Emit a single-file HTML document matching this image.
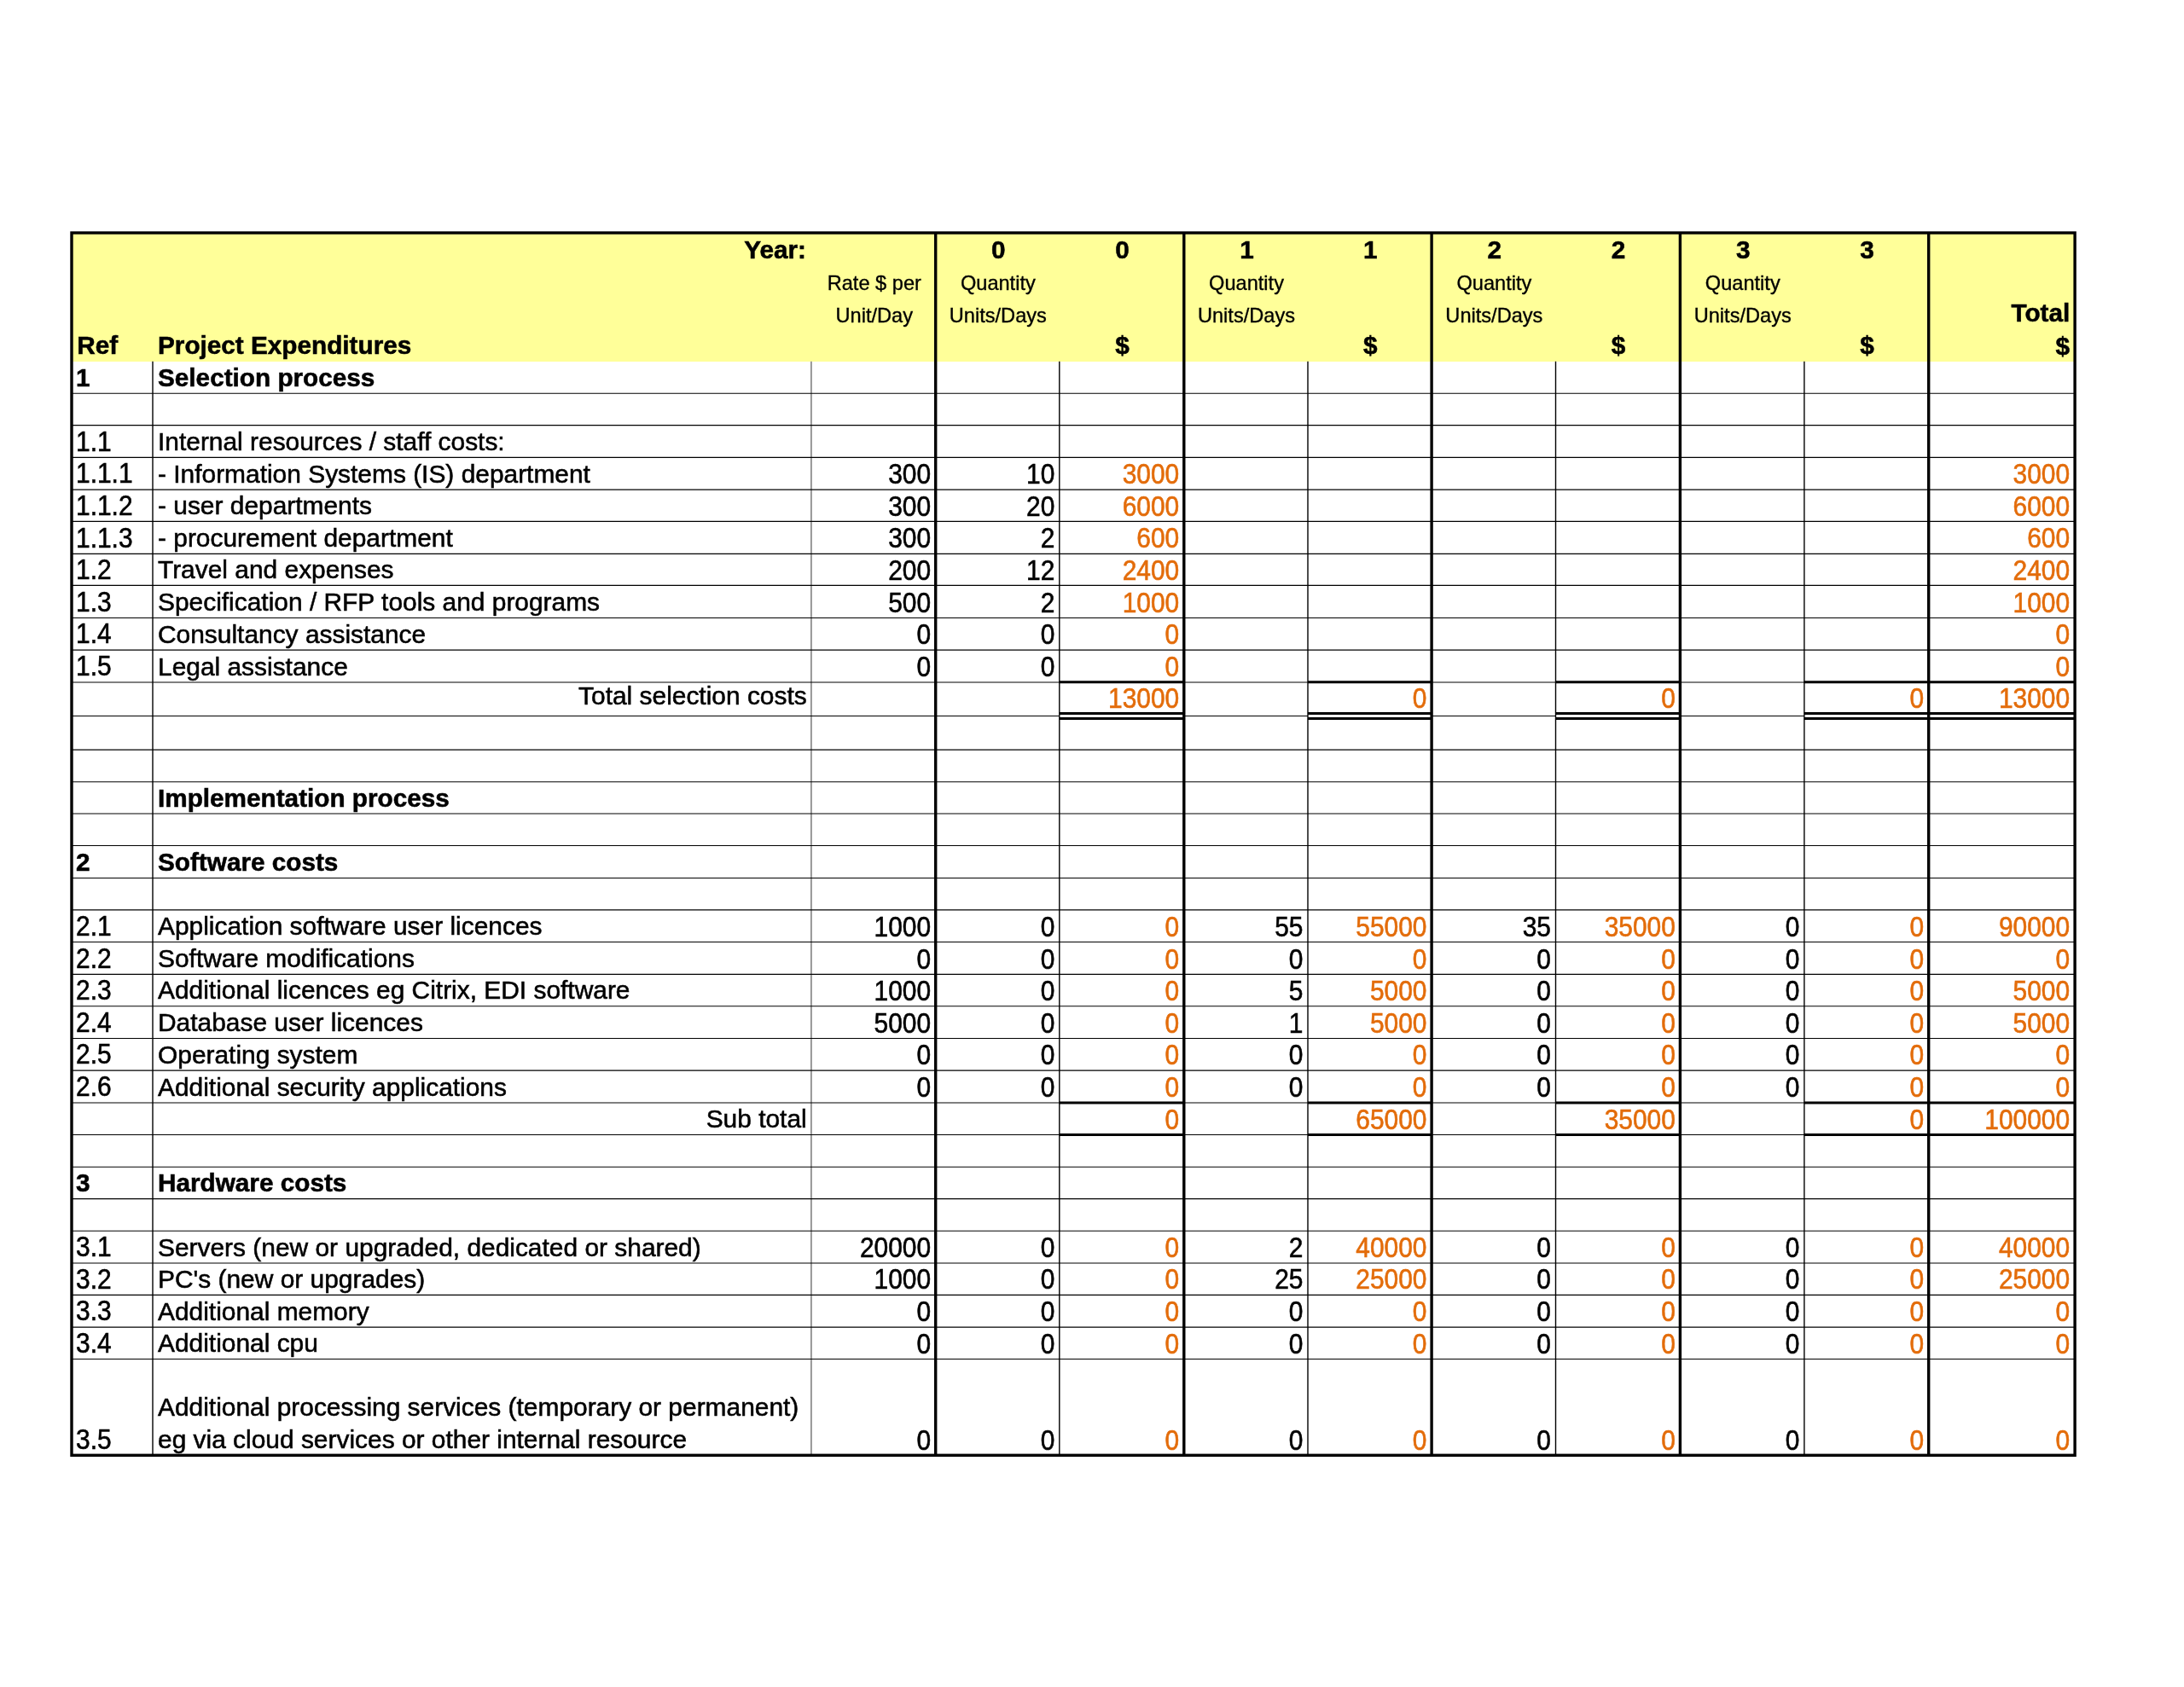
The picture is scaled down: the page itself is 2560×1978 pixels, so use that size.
<!DOCTYPE html>
<html lang="en">
<head>
<meta charset="utf-8">
<title>Project Expenditures</title>
<style>
html,body{margin:0;padding:0;background:#fff;}
body{width:2560px;height:1978px;position:relative;overflow:hidden;
 font-family:"Liberation Sans",Arial,Helvetica,sans-serif;color:#000;}
.t{position:absolute;white-space:nowrap;margin:0;padding:0;-webkit-text-stroke:0.55px currentColor;}
#txt{position:absolute;left:0;top:0;width:2560px;height:1978px;will-change:transform;}
#hdr{position:absolute;left:84.0px;top:273.0px;width:2348.1px;height:150.7px;background:#FFFF99;}
svg{position:absolute;left:0;top:0;}
</style>
</head>
<body>
<div id="hdr"></div>

<svg width="2560" height="1978" viewBox="0 0 2560 1978">
<line x1="950.9" y1="423.7" x2="950.9" y2="1706.3" stroke="#979797" stroke-width="2"/>
<g stroke="#000" stroke-width="1.15">
<line x1="84.0" y1="461.2" x2="2432.1" y2="461.2"/>
<line x1="84.0" y1="498.6" x2="2432.1" y2="498.6"/>
<line x1="84.0" y1="536.4" x2="2432.1" y2="536.4"/>
<line x1="84.0" y1="574.1" x2="2432.1" y2="574.1"/>
<line x1="84.0" y1="611.4" x2="2432.1" y2="611.4"/>
<line x1="84.0" y1="649.3" x2="2432.1" y2="649.3"/>
<line x1="84.0" y1="686.4" x2="2432.1" y2="686.4"/>
<line x1="84.0" y1="724.5" x2="2432.1" y2="724.5"/>
<line x1="84.0" y1="762.1" x2="2432.1" y2="762.1"/>
<line x1="84.0" y1="800.0" x2="2432.1" y2="800.0"/>
<line x1="84.0" y1="839.5" x2="1241.8" y2="839.5"/>
<line x1="1387.8" y1="839.5" x2="1533.0" y2="839.5"/>
<line x1="1678.1" y1="839.5" x2="1823.5" y2="839.5"/>
<line x1="1969.4" y1="839.5" x2="2114.9" y2="839.5"/>
<line x1="84.0" y1="879.1" x2="2432.1" y2="879.1"/>
<line x1="84.0" y1="916.7" x2="2432.1" y2="916.7"/>
<line x1="84.0" y1="954.0" x2="2432.1" y2="954.0"/>
<line x1="84.0" y1="991.5" x2="2432.1" y2="991.5"/>
<line x1="84.0" y1="1029.5" x2="2432.1" y2="1029.5"/>
<line x1="84.0" y1="1066.9" x2="2432.1" y2="1066.9"/>
<line x1="84.0" y1="1104.5" x2="2432.1" y2="1104.5"/>
<line x1="84.0" y1="1142.4" x2="2432.1" y2="1142.4"/>
<line x1="84.0" y1="1179.75" x2="2432.1" y2="1179.75"/>
<line x1="84.0" y1="1217.5" x2="2432.1" y2="1217.5"/>
<line x1="84.0" y1="1255.1" x2="2432.1" y2="1255.1"/>
<line x1="84.0" y1="1293.0" x2="2432.1" y2="1293.0"/>
<line x1="84.0" y1="1330.5" x2="2432.1" y2="1330.5"/>
<line x1="84.0" y1="1368.2" x2="2432.1" y2="1368.2"/>
<line x1="84.0" y1="1405.6" x2="2432.1" y2="1405.6"/>
<line x1="84.0" y1="1443.2" x2="2432.1" y2="1443.2"/>
<line x1="84.0" y1="1481.0" x2="2432.1" y2="1481.0"/>
<line x1="84.0" y1="1518.3" x2="2432.1" y2="1518.3"/>
<line x1="84.0" y1="1556.15" x2="2432.1" y2="1556.15"/>
<line x1="84.0" y1="1593.5" x2="2432.1" y2="1593.5"/>
</g>
<g stroke="#000" stroke-width="1.4">
<line x1="179.0" y1="423.7" x2="179.0" y2="1706.3"/>
<line x1="1241.8" y1="423.7" x2="1241.8" y2="1706.3"/>
<line x1="1533.0" y1="423.7" x2="1533.0" y2="1706.3"/>
<line x1="1823.5" y1="423.7" x2="1823.5" y2="1706.3"/>
<line x1="2114.9" y1="423.7" x2="2114.9" y2="1706.3"/>
</g>
<g stroke="#000" stroke-width="3.4">
<line x1="1096.7" y1="273.0" x2="1096.7" y2="1706.3"/>
<line x1="1387.8" y1="273.0" x2="1387.8" y2="1706.3"/>
<line x1="1678.1" y1="273.0" x2="1678.1" y2="1706.3"/>
<line x1="1969.4" y1="273.0" x2="1969.4" y2="1706.3"/>
<line x1="2260.7" y1="273.0" x2="2260.7" y2="1706.3"/>
</g>
<rect x="84.0" y="273.0" width="2348.1" height="1433.3" fill="none" stroke="#000" stroke-width="3.4"/>
<g stroke="#000" stroke-width="3.0">
<line x1="1241.8" y1="799.8" x2="1387.8" y2="799.8"/>
<line x1="1241.8" y1="836.6" x2="1387.8" y2="836.6"/>
<line x1="1241.8" y1="842.5" x2="1387.8" y2="842.5"/>
<line x1="1241.8" y1="1293.0" x2="1387.8" y2="1293.0"/>
<line x1="1241.8" y1="1330.5" x2="1387.8" y2="1330.5"/>
<line x1="1533.0" y1="799.8" x2="1678.1" y2="799.8"/>
<line x1="1533.0" y1="836.6" x2="1678.1" y2="836.6"/>
<line x1="1533.0" y1="842.5" x2="1678.1" y2="842.5"/>
<line x1="1533.0" y1="1293.0" x2="1678.1" y2="1293.0"/>
<line x1="1533.0" y1="1330.5" x2="1678.1" y2="1330.5"/>
<line x1="1823.5" y1="799.8" x2="1969.4" y2="799.8"/>
<line x1="1823.5" y1="836.6" x2="1969.4" y2="836.6"/>
<line x1="1823.5" y1="842.5" x2="1969.4" y2="842.5"/>
<line x1="1823.5" y1="1293.0" x2="1969.4" y2="1293.0"/>
<line x1="1823.5" y1="1330.5" x2="1969.4" y2="1330.5"/>
<line x1="2114.9" y1="799.8" x2="2260.7" y2="799.8"/>
<line x1="2114.9" y1="836.6" x2="2260.7" y2="836.6"/>
<line x1="2114.9" y1="842.5" x2="2260.7" y2="842.5"/>
<line x1="2114.9" y1="1293.0" x2="2260.7" y2="1293.0"/>
<line x1="2114.9" y1="1330.5" x2="2260.7" y2="1330.5"/>
<line x1="2260.7" y1="799.8" x2="2432.1" y2="799.8"/>
<line x1="2260.7" y1="836.6" x2="2432.1" y2="836.6"/>
<line x1="2260.7" y1="842.5" x2="2432.1" y2="842.5"/>
<line x1="2260.7" y1="1293.0" x2="2432.1" y2="1293.0"/>
<line x1="2260.7" y1="1330.5" x2="2432.1" y2="1330.5"/>
</g>
</svg>
<div id="txt">
<div class="t" style="top:274.77px;line-height:35.66px;font-size:29.72px;right:1615.10px;font-weight:bold">Year:</div>
<div class="t" style="top:387.17px;line-height:35.66px;font-size:29.72px;left:90.30px;font-weight:bold">Ref</div>
<div class="t" style="top:387.17px;line-height:35.66px;font-size:29.72px;left:185.00px;font-weight:bold">Project Expenditures</div>
<div class="t" style="top:318.06px;line-height:28.32px;font-size:23.6px;left:724.80px;width:600px;text-align:center;-webkit-text-stroke-width:0.35px">Rate $ per</div>
<div class="t" style="top:355.86px;line-height:28.32px;font-size:23.6px;left:724.80px;width:600px;text-align:center;-webkit-text-stroke-width:0.35px">Unit/Day</div>
<div class="t" style="top:274.77px;line-height:35.66px;font-size:29.72px;left:870.25px;width:600px;text-align:center;font-weight:bold">0</div>
<div class="t" style="top:274.77px;line-height:35.66px;font-size:29.72px;left:1015.40px;width:600px;text-align:center;font-weight:bold">0</div>
<div class="t" style="top:318.06px;line-height:28.32px;font-size:23.6px;left:869.85px;width:600px;text-align:center;-webkit-text-stroke-width:0.35px">Quantity</div>
<div class="t" style="top:355.86px;line-height:28.32px;font-size:23.6px;left:869.85px;width:600px;text-align:center;-webkit-text-stroke-width:0.35px">Units/Days</div>
<div class="t" style="top:387.17px;line-height:35.66px;font-size:29.72px;left:1015.40px;width:600px;text-align:center;font-weight:bold">$</div>
<div class="t" style="top:274.77px;line-height:35.66px;font-size:29.72px;left:1161.40px;width:600px;text-align:center;font-weight:bold">1</div>
<div class="t" style="top:274.77px;line-height:35.66px;font-size:29.72px;left:1306.15px;width:600px;text-align:center;font-weight:bold">1</div>
<div class="t" style="top:318.06px;line-height:28.32px;font-size:23.6px;left:1161.00px;width:600px;text-align:center;-webkit-text-stroke-width:0.35px">Quantity</div>
<div class="t" style="top:355.86px;line-height:28.32px;font-size:23.6px;left:1161.00px;width:600px;text-align:center;-webkit-text-stroke-width:0.35px">Units/Days</div>
<div class="t" style="top:387.17px;line-height:35.66px;font-size:29.72px;left:1306.15px;width:600px;text-align:center;font-weight:bold">$</div>
<div class="t" style="top:274.77px;line-height:35.66px;font-size:29.72px;left:1451.80px;width:600px;text-align:center;font-weight:bold">2</div>
<div class="t" style="top:274.77px;line-height:35.66px;font-size:29.72px;left:1597.05px;width:600px;text-align:center;font-weight:bold">2</div>
<div class="t" style="top:318.06px;line-height:28.32px;font-size:23.6px;left:1451.40px;width:600px;text-align:center;-webkit-text-stroke-width:0.35px">Quantity</div>
<div class="t" style="top:355.86px;line-height:28.32px;font-size:23.6px;left:1451.40px;width:600px;text-align:center;-webkit-text-stroke-width:0.35px">Units/Days</div>
<div class="t" style="top:387.17px;line-height:35.66px;font-size:29.72px;left:1597.05px;width:600px;text-align:center;font-weight:bold">$</div>
<div class="t" style="top:274.77px;line-height:35.66px;font-size:29.72px;left:1743.15px;width:600px;text-align:center;font-weight:bold">3</div>
<div class="t" style="top:274.77px;line-height:35.66px;font-size:29.72px;left:1888.40px;width:600px;text-align:center;font-weight:bold">3</div>
<div class="t" style="top:318.06px;line-height:28.32px;font-size:23.6px;left:1742.75px;width:600px;text-align:center;-webkit-text-stroke-width:0.35px">Quantity</div>
<div class="t" style="top:355.86px;line-height:28.32px;font-size:23.6px;left:1742.75px;width:600px;text-align:center;-webkit-text-stroke-width:0.35px">Units/Days</div>
<div class="t" style="top:387.17px;line-height:35.66px;font-size:29.72px;left:1888.40px;width:600px;text-align:center;font-weight:bold">$</div>
<div class="t" style="top:349.27px;line-height:35.66px;font-size:29.72px;right:133.70px;font-weight:bold">Total</div>
<div class="t" style="top:387.77px;line-height:35.66px;font-size:29.72px;right:134.10px;font-weight:bold">$</div>
<div class="t" style="top:424.77px;line-height:35.66px;font-size:29.72px;left:89.00px;font-weight:bold">1</div>
<div class="t" style="top:425.07px;line-height:35.66px;font-size:29.72px;left:185.00px;font-weight:bold">Selection process</div>
<div class="t" style="top:500.68px;line-height:35.9px;font-size:29.92px;left:89.00px;transform:scaleY(1.08);transform-origin:50% 28.32px">1.1</div>
<div class="t" style="top:500.08px;line-height:35.9px;font-size:29.92px;left:185.00px">Internal resources / staff costs:</div>
<div class="t" style="top:538.38px;line-height:35.9px;font-size:29.92px;left:89.00px;transform:scaleY(1.08);transform-origin:50% 28.32px">1.1.1</div>
<div class="t" style="top:537.78px;line-height:35.9px;font-size:29.92px;left:185.00px">- Information Systems (IS) department</div>
<div class="t" style="top:539.28px;line-height:35.9px;font-size:29.92px;right:1468.90px;transform:scaleY(1.08);transform-origin:50% 28.32px">300</div>
<div class="t" style="top:539.28px;line-height:35.9px;font-size:29.92px;right:1323.70px;transform:scaleY(1.08);transform-origin:50% 28.32px">10</div>
<div class="t" style="top:539.28px;line-height:35.9px;font-size:29.92px;right:1177.80px;color:#E36C0A;transform:scaleY(1.08);transform-origin:50% 28.32px">3000</div>
<div class="t" style="top:539.28px;line-height:35.9px;font-size:29.92px;right:133.90px;color:#E36C0A;transform:scaleY(1.08);transform-origin:50% 28.32px">3000</div>
<div class="t" style="top:575.68px;line-height:35.9px;font-size:29.92px;left:89.00px;transform:scaleY(1.08);transform-origin:50% 28.32px">1.1.2</div>
<div class="t" style="top:575.08px;line-height:35.9px;font-size:29.92px;left:185.00px">- user departments</div>
<div class="t" style="top:576.58px;line-height:35.9px;font-size:29.92px;right:1468.90px;transform:scaleY(1.08);transform-origin:50% 28.32px">300</div>
<div class="t" style="top:576.58px;line-height:35.9px;font-size:29.92px;right:1323.70px;transform:scaleY(1.08);transform-origin:50% 28.32px">20</div>
<div class="t" style="top:576.58px;line-height:35.9px;font-size:29.92px;right:1177.80px;color:#E36C0A;transform:scaleY(1.08);transform-origin:50% 28.32px">6000</div>
<div class="t" style="top:576.58px;line-height:35.9px;font-size:29.92px;right:133.90px;color:#E36C0A;transform:scaleY(1.08);transform-origin:50% 28.32px">6000</div>
<div class="t" style="top:613.58px;line-height:35.9px;font-size:29.92px;left:89.00px;transform:scaleY(1.08);transform-origin:50% 28.32px">1.1.3</div>
<div class="t" style="top:612.98px;line-height:35.9px;font-size:29.92px;left:185.00px">- procurement department</div>
<div class="t" style="top:614.48px;line-height:35.9px;font-size:29.92px;right:1468.90px;transform:scaleY(1.08);transform-origin:50% 28.32px">300</div>
<div class="t" style="top:614.48px;line-height:35.9px;font-size:29.92px;right:1323.70px;transform:scaleY(1.08);transform-origin:50% 28.32px">2</div>
<div class="t" style="top:614.48px;line-height:35.9px;font-size:29.92px;right:1177.80px;color:#E36C0A;transform:scaleY(1.08);transform-origin:50% 28.32px">600</div>
<div class="t" style="top:614.48px;line-height:35.9px;font-size:29.92px;right:133.90px;color:#E36C0A;transform:scaleY(1.08);transform-origin:50% 28.32px">600</div>
<div class="t" style="top:650.68px;line-height:35.9px;font-size:29.92px;left:89.00px;transform:scaleY(1.08);transform-origin:50% 28.32px">1.2</div>
<div class="t" style="top:650.08px;line-height:35.9px;font-size:29.92px;left:185.00px">Travel and expenses</div>
<div class="t" style="top:651.58px;line-height:35.9px;font-size:29.92px;right:1468.90px;transform:scaleY(1.08);transform-origin:50% 28.32px">200</div>
<div class="t" style="top:651.58px;line-height:35.9px;font-size:29.92px;right:1323.70px;transform:scaleY(1.08);transform-origin:50% 28.32px">12</div>
<div class="t" style="top:651.58px;line-height:35.9px;font-size:29.92px;right:1177.80px;color:#E36C0A;transform:scaleY(1.08);transform-origin:50% 28.32px">2400</div>
<div class="t" style="top:651.58px;line-height:35.9px;font-size:29.92px;right:133.90px;color:#E36C0A;transform:scaleY(1.08);transform-origin:50% 28.32px">2400</div>
<div class="t" style="top:688.78px;line-height:35.9px;font-size:29.92px;left:89.00px;transform:scaleY(1.08);transform-origin:50% 28.32px">1.3</div>
<div class="t" style="top:688.18px;line-height:35.9px;font-size:29.92px;left:185.00px">Specification / RFP tools and programs</div>
<div class="t" style="top:689.68px;line-height:35.9px;font-size:29.92px;right:1468.90px;transform:scaleY(1.08);transform-origin:50% 28.32px">500</div>
<div class="t" style="top:689.68px;line-height:35.9px;font-size:29.92px;right:1323.70px;transform:scaleY(1.08);transform-origin:50% 28.32px">2</div>
<div class="t" style="top:689.68px;line-height:35.9px;font-size:29.92px;right:1177.80px;color:#E36C0A;transform:scaleY(1.08);transform-origin:50% 28.32px">1000</div>
<div class="t" style="top:689.68px;line-height:35.9px;font-size:29.92px;right:133.90px;color:#E36C0A;transform:scaleY(1.08);transform-origin:50% 28.32px">1000</div>
<div class="t" style="top:726.38px;line-height:35.9px;font-size:29.92px;left:89.00px;transform:scaleY(1.08);transform-origin:50% 28.32px">1.4</div>
<div class="t" style="top:725.78px;line-height:35.9px;font-size:29.92px;left:185.00px">Consultancy assistance</div>
<div class="t" style="top:727.28px;line-height:35.9px;font-size:29.92px;right:1468.90px;transform:scaleY(1.08);transform-origin:50% 28.32px">0</div>
<div class="t" style="top:727.28px;line-height:35.9px;font-size:29.92px;right:1323.70px;transform:scaleY(1.08);transform-origin:50% 28.32px">0</div>
<div class="t" style="top:727.28px;line-height:35.9px;font-size:29.92px;right:1177.80px;color:#E36C0A;transform:scaleY(1.08);transform-origin:50% 28.32px">0</div>
<div class="t" style="top:727.28px;line-height:35.9px;font-size:29.92px;right:133.90px;color:#E36C0A;transform:scaleY(1.08);transform-origin:50% 28.32px">0</div>
<div class="t" style="top:764.28px;line-height:35.9px;font-size:29.92px;left:89.00px;transform:scaleY(1.08);transform-origin:50% 28.32px">1.5</div>
<div class="t" style="top:763.68px;line-height:35.9px;font-size:29.92px;left:185.00px">Legal assistance</div>
<div class="t" style="top:765.18px;line-height:35.9px;font-size:29.92px;right:1468.90px;transform:scaleY(1.08);transform-origin:50% 28.32px">0</div>
<div class="t" style="top:765.18px;line-height:35.9px;font-size:29.92px;right:1323.70px;transform:scaleY(1.08);transform-origin:50% 28.32px">0</div>
<div class="t" style="top:765.18px;line-height:35.9px;font-size:29.92px;right:1177.80px;color:#E36C0A;transform:scaleY(1.08);transform-origin:50% 28.32px">0</div>
<div class="t" style="top:765.18px;line-height:35.9px;font-size:29.92px;right:133.90px;color:#E36C0A;transform:scaleY(1.08);transform-origin:50% 28.32px">0</div>
<div class="t" style="top:797.78px;line-height:35.9px;font-size:29.92px;right:1614.30px">Total selection costs</div>
<div class="t" style="top:801.78px;line-height:35.9px;font-size:29.92px;right:1177.80px;color:#E36C0A;transform:scaleY(1.08);transform-origin:50% 28.32px">13000</div>
<div class="t" style="top:801.78px;line-height:35.9px;font-size:29.92px;right:887.50px;color:#E36C0A;transform:scaleY(1.08);transform-origin:50% 28.32px">0</div>
<div class="t" style="top:801.78px;line-height:35.9px;font-size:29.92px;right:596.20px;color:#E36C0A;transform:scaleY(1.08);transform-origin:50% 28.32px">0</div>
<div class="t" style="top:801.78px;line-height:35.9px;font-size:29.92px;right:304.90px;color:#E36C0A;transform:scaleY(1.08);transform-origin:50% 28.32px">0</div>
<div class="t" style="top:801.78px;line-height:35.9px;font-size:29.92px;right:133.90px;color:#E36C0A;transform:scaleY(1.08);transform-origin:50% 28.32px">13000</div>
<div class="t" style="top:917.87px;line-height:35.66px;font-size:29.72px;left:185.00px;font-weight:bold">Implementation process</div>
<div class="t" style="top:993.07px;line-height:35.66px;font-size:29.72px;left:89.00px;font-weight:bold">2</div>
<div class="t" style="top:993.37px;line-height:35.66px;font-size:29.72px;left:185.00px;font-weight:bold">Software costs</div>
<div class="t" style="top:1068.78px;line-height:35.9px;font-size:29.92px;left:89.00px;transform:scaleY(1.08);transform-origin:50% 28.32px">2.1</div>
<div class="t" style="top:1068.18px;line-height:35.9px;font-size:29.92px;left:185.00px">Application software user licences</div>
<div class="t" style="top:1069.68px;line-height:35.9px;font-size:29.92px;right:1468.90px;transform:scaleY(1.08);transform-origin:50% 28.32px">1000</div>
<div class="t" style="top:1069.68px;line-height:35.9px;font-size:29.92px;right:1323.70px;transform:scaleY(1.08);transform-origin:50% 28.32px">0</div>
<div class="t" style="top:1069.68px;line-height:35.9px;font-size:29.92px;right:1177.80px;color:#E36C0A;transform:scaleY(1.08);transform-origin:50% 28.32px">0</div>
<div class="t" style="top:1069.68px;line-height:35.9px;font-size:29.92px;right:1032.50px;transform:scaleY(1.08);transform-origin:50% 28.32px">55</div>
<div class="t" style="top:1069.68px;line-height:35.9px;font-size:29.92px;right:887.50px;color:#E36C0A;transform:scaleY(1.08);transform-origin:50% 28.32px">55000</div>
<div class="t" style="top:1069.68px;line-height:35.9px;font-size:29.92px;right:742.00px;transform:scaleY(1.08);transform-origin:50% 28.32px">35</div>
<div class="t" style="top:1069.68px;line-height:35.9px;font-size:29.92px;right:596.20px;color:#E36C0A;transform:scaleY(1.08);transform-origin:50% 28.32px">35000</div>
<div class="t" style="top:1069.68px;line-height:35.9px;font-size:29.92px;right:450.60px;transform:scaleY(1.08);transform-origin:50% 28.32px">0</div>
<div class="t" style="top:1069.68px;line-height:35.9px;font-size:29.92px;right:304.90px;color:#E36C0A;transform:scaleY(1.08);transform-origin:50% 28.32px">0</div>
<div class="t" style="top:1069.68px;line-height:35.9px;font-size:29.92px;right:133.90px;color:#E36C0A;transform:scaleY(1.08);transform-origin:50% 28.32px">90000</div>
<div class="t" style="top:1106.68px;line-height:35.9px;font-size:29.92px;left:89.00px;transform:scaleY(1.08);transform-origin:50% 28.32px">2.2</div>
<div class="t" style="top:1106.08px;line-height:35.9px;font-size:29.92px;left:185.00px">Software modifications</div>
<div class="t" style="top:1107.58px;line-height:35.9px;font-size:29.92px;right:1468.90px;transform:scaleY(1.08);transform-origin:50% 28.32px">0</div>
<div class="t" style="top:1107.58px;line-height:35.9px;font-size:29.92px;right:1323.70px;transform:scaleY(1.08);transform-origin:50% 28.32px">0</div>
<div class="t" style="top:1107.58px;line-height:35.9px;font-size:29.92px;right:1177.80px;color:#E36C0A;transform:scaleY(1.08);transform-origin:50% 28.32px">0</div>
<div class="t" style="top:1107.58px;line-height:35.9px;font-size:29.92px;right:1032.50px;transform:scaleY(1.08);transform-origin:50% 28.32px">0</div>
<div class="t" style="top:1107.58px;line-height:35.9px;font-size:29.92px;right:887.50px;color:#E36C0A;transform:scaleY(1.08);transform-origin:50% 28.32px">0</div>
<div class="t" style="top:1107.58px;line-height:35.9px;font-size:29.92px;right:742.00px;transform:scaleY(1.08);transform-origin:50% 28.32px">0</div>
<div class="t" style="top:1107.58px;line-height:35.9px;font-size:29.92px;right:596.20px;color:#E36C0A;transform:scaleY(1.08);transform-origin:50% 28.32px">0</div>
<div class="t" style="top:1107.58px;line-height:35.9px;font-size:29.92px;right:450.60px;transform:scaleY(1.08);transform-origin:50% 28.32px">0</div>
<div class="t" style="top:1107.58px;line-height:35.9px;font-size:29.92px;right:304.90px;color:#E36C0A;transform:scaleY(1.08);transform-origin:50% 28.32px">0</div>
<div class="t" style="top:1107.58px;line-height:35.9px;font-size:29.92px;right:133.90px;color:#E36C0A;transform:scaleY(1.08);transform-origin:50% 28.32px">0</div>
<div class="t" style="top:1144.03px;line-height:35.9px;font-size:29.92px;left:89.00px;transform:scaleY(1.08);transform-origin:50% 28.32px">2.3</div>
<div class="t" style="top:1143.43px;line-height:35.9px;font-size:29.92px;left:185.00px">Additional licences eg Citrix, EDI software</div>
<div class="t" style="top:1144.93px;line-height:35.9px;font-size:29.92px;right:1468.90px;transform:scaleY(1.08);transform-origin:50% 28.32px">1000</div>
<div class="t" style="top:1144.93px;line-height:35.9px;font-size:29.92px;right:1323.70px;transform:scaleY(1.08);transform-origin:50% 28.32px">0</div>
<div class="t" style="top:1144.93px;line-height:35.9px;font-size:29.92px;right:1177.80px;color:#E36C0A;transform:scaleY(1.08);transform-origin:50% 28.32px">0</div>
<div class="t" style="top:1144.93px;line-height:35.9px;font-size:29.92px;right:1032.50px;transform:scaleY(1.08);transform-origin:50% 28.32px">5</div>
<div class="t" style="top:1144.93px;line-height:35.9px;font-size:29.92px;right:887.50px;color:#E36C0A;transform:scaleY(1.08);transform-origin:50% 28.32px">5000</div>
<div class="t" style="top:1144.93px;line-height:35.9px;font-size:29.92px;right:742.00px;transform:scaleY(1.08);transform-origin:50% 28.32px">0</div>
<div class="t" style="top:1144.93px;line-height:35.9px;font-size:29.92px;right:596.20px;color:#E36C0A;transform:scaleY(1.08);transform-origin:50% 28.32px">0</div>
<div class="t" style="top:1144.93px;line-height:35.9px;font-size:29.92px;right:450.60px;transform:scaleY(1.08);transform-origin:50% 28.32px">0</div>
<div class="t" style="top:1144.93px;line-height:35.9px;font-size:29.92px;right:304.90px;color:#E36C0A;transform:scaleY(1.08);transform-origin:50% 28.32px">0</div>
<div class="t" style="top:1144.93px;line-height:35.9px;font-size:29.92px;right:133.90px;color:#E36C0A;transform:scaleY(1.08);transform-origin:50% 28.32px">5000</div>
<div class="t" style="top:1181.78px;line-height:35.9px;font-size:29.92px;left:89.00px;transform:scaleY(1.08);transform-origin:50% 28.32px">2.4</div>
<div class="t" style="top:1181.18px;line-height:35.9px;font-size:29.92px;left:185.00px">Database user licences</div>
<div class="t" style="top:1182.68px;line-height:35.9px;font-size:29.92px;right:1468.90px;transform:scaleY(1.08);transform-origin:50% 28.32px">5000</div>
<div class="t" style="top:1182.68px;line-height:35.9px;font-size:29.92px;right:1323.70px;transform:scaleY(1.08);transform-origin:50% 28.32px">0</div>
<div class="t" style="top:1182.68px;line-height:35.9px;font-size:29.92px;right:1177.80px;color:#E36C0A;transform:scaleY(1.08);transform-origin:50% 28.32px">0</div>
<div class="t" style="top:1182.68px;line-height:35.9px;font-size:29.92px;right:1032.50px;transform:scaleY(1.08);transform-origin:50% 28.32px">1</div>
<div class="t" style="top:1182.68px;line-height:35.9px;font-size:29.92px;right:887.50px;color:#E36C0A;transform:scaleY(1.08);transform-origin:50% 28.32px">5000</div>
<div class="t" style="top:1182.68px;line-height:35.9px;font-size:29.92px;right:742.00px;transform:scaleY(1.08);transform-origin:50% 28.32px">0</div>
<div class="t" style="top:1182.68px;line-height:35.9px;font-size:29.92px;right:596.20px;color:#E36C0A;transform:scaleY(1.08);transform-origin:50% 28.32px">0</div>
<div class="t" style="top:1182.68px;line-height:35.9px;font-size:29.92px;right:450.60px;transform:scaleY(1.08);transform-origin:50% 28.32px">0</div>
<div class="t" style="top:1182.68px;line-height:35.9px;font-size:29.92px;right:304.90px;color:#E36C0A;transform:scaleY(1.08);transform-origin:50% 28.32px">0</div>
<div class="t" style="top:1182.68px;line-height:35.9px;font-size:29.92px;right:133.90px;color:#E36C0A;transform:scaleY(1.08);transform-origin:50% 28.32px">5000</div>
<div class="t" style="top:1219.38px;line-height:35.9px;font-size:29.92px;left:89.00px;transform:scaleY(1.08);transform-origin:50% 28.32px">2.5</div>
<div class="t" style="top:1218.78px;line-height:35.9px;font-size:29.92px;left:185.00px">Operating system</div>
<div class="t" style="top:1220.28px;line-height:35.9px;font-size:29.92px;right:1468.90px;transform:scaleY(1.08);transform-origin:50% 28.32px">0</div>
<div class="t" style="top:1220.28px;line-height:35.9px;font-size:29.92px;right:1323.70px;transform:scaleY(1.08);transform-origin:50% 28.32px">0</div>
<div class="t" style="top:1220.28px;line-height:35.9px;font-size:29.92px;right:1177.80px;color:#E36C0A;transform:scaleY(1.08);transform-origin:50% 28.32px">0</div>
<div class="t" style="top:1220.28px;line-height:35.9px;font-size:29.92px;right:1032.50px;transform:scaleY(1.08);transform-origin:50% 28.32px">0</div>
<div class="t" style="top:1220.28px;line-height:35.9px;font-size:29.92px;right:887.50px;color:#E36C0A;transform:scaleY(1.08);transform-origin:50% 28.32px">0</div>
<div class="t" style="top:1220.28px;line-height:35.9px;font-size:29.92px;right:742.00px;transform:scaleY(1.08);transform-origin:50% 28.32px">0</div>
<div class="t" style="top:1220.28px;line-height:35.9px;font-size:29.92px;right:596.20px;color:#E36C0A;transform:scaleY(1.08);transform-origin:50% 28.32px">0</div>
<div class="t" style="top:1220.28px;line-height:35.9px;font-size:29.92px;right:450.60px;transform:scaleY(1.08);transform-origin:50% 28.32px">0</div>
<div class="t" style="top:1220.28px;line-height:35.9px;font-size:29.92px;right:304.90px;color:#E36C0A;transform:scaleY(1.08);transform-origin:50% 28.32px">0</div>
<div class="t" style="top:1220.28px;line-height:35.9px;font-size:29.92px;right:133.90px;color:#E36C0A;transform:scaleY(1.08);transform-origin:50% 28.32px">0</div>
<div class="t" style="top:1257.28px;line-height:35.9px;font-size:29.92px;left:89.00px;transform:scaleY(1.08);transform-origin:50% 28.32px">2.6</div>
<div class="t" style="top:1256.68px;line-height:35.9px;font-size:29.92px;left:185.00px">Additional security applications</div>
<div class="t" style="top:1258.18px;line-height:35.9px;font-size:29.92px;right:1468.90px;transform:scaleY(1.08);transform-origin:50% 28.32px">0</div>
<div class="t" style="top:1258.18px;line-height:35.9px;font-size:29.92px;right:1323.70px;transform:scaleY(1.08);transform-origin:50% 28.32px">0</div>
<div class="t" style="top:1258.18px;line-height:35.9px;font-size:29.92px;right:1177.80px;color:#E36C0A;transform:scaleY(1.08);transform-origin:50% 28.32px">0</div>
<div class="t" style="top:1258.18px;line-height:35.9px;font-size:29.92px;right:1032.50px;transform:scaleY(1.08);transform-origin:50% 28.32px">0</div>
<div class="t" style="top:1258.18px;line-height:35.9px;font-size:29.92px;right:887.50px;color:#E36C0A;transform:scaleY(1.08);transform-origin:50% 28.32px">0</div>
<div class="t" style="top:1258.18px;line-height:35.9px;font-size:29.92px;right:742.00px;transform:scaleY(1.08);transform-origin:50% 28.32px">0</div>
<div class="t" style="top:1258.18px;line-height:35.9px;font-size:29.92px;right:596.20px;color:#E36C0A;transform:scaleY(1.08);transform-origin:50% 28.32px">0</div>
<div class="t" style="top:1258.18px;line-height:35.9px;font-size:29.92px;right:450.60px;transform:scaleY(1.08);transform-origin:50% 28.32px">0</div>
<div class="t" style="top:1258.18px;line-height:35.9px;font-size:29.92px;right:304.90px;color:#E36C0A;transform:scaleY(1.08);transform-origin:50% 28.32px">0</div>
<div class="t" style="top:1258.18px;line-height:35.9px;font-size:29.92px;right:133.90px;color:#E36C0A;transform:scaleY(1.08);transform-origin:50% 28.32px">0</div>
<div class="t" style="top:1294.18px;line-height:35.9px;font-size:29.92px;right:1614.30px">Sub total</div>
<div class="t" style="top:1295.68px;line-height:35.9px;font-size:29.92px;right:1177.80px;color:#E36C0A;transform:scaleY(1.08);transform-origin:50% 28.32px">0</div>
<div class="t" style="top:1295.68px;line-height:35.9px;font-size:29.92px;right:887.50px;color:#E36C0A;transform:scaleY(1.08);transform-origin:50% 28.32px">65000</div>
<div class="t" style="top:1295.68px;line-height:35.9px;font-size:29.92px;right:596.20px;color:#E36C0A;transform:scaleY(1.08);transform-origin:50% 28.32px">35000</div>
<div class="t" style="top:1295.68px;line-height:35.9px;font-size:29.92px;right:304.90px;color:#E36C0A;transform:scaleY(1.08);transform-origin:50% 28.32px">0</div>
<div class="t" style="top:1295.68px;line-height:35.9px;font-size:29.92px;right:133.90px;color:#E36C0A;transform:scaleY(1.08);transform-origin:50% 28.32px">100000</div>
<div class="t" style="top:1369.17px;line-height:35.66px;font-size:29.72px;left:89.00px;font-weight:bold">3</div>
<div class="t" style="top:1369.47px;line-height:35.66px;font-size:29.72px;left:185.00px;font-weight:bold">Hardware costs</div>
<div class="t" style="top:1445.28px;line-height:35.9px;font-size:29.92px;left:89.00px;transform:scaleY(1.08);transform-origin:50% 28.32px">3.1</div>
<div class="t" style="top:1444.68px;line-height:35.9px;font-size:29.92px;left:185.00px">Servers (new or upgraded, dedicated or shared)</div>
<div class="t" style="top:1446.18px;line-height:35.9px;font-size:29.92px;right:1468.90px;transform:scaleY(1.08);transform-origin:50% 28.32px">20000</div>
<div class="t" style="top:1446.18px;line-height:35.9px;font-size:29.92px;right:1323.70px;transform:scaleY(1.08);transform-origin:50% 28.32px">0</div>
<div class="t" style="top:1446.18px;line-height:35.9px;font-size:29.92px;right:1177.80px;color:#E36C0A;transform:scaleY(1.08);transform-origin:50% 28.32px">0</div>
<div class="t" style="top:1446.18px;line-height:35.9px;font-size:29.92px;right:1032.50px;transform:scaleY(1.08);transform-origin:50% 28.32px">2</div>
<div class="t" style="top:1446.18px;line-height:35.9px;font-size:29.92px;right:887.50px;color:#E36C0A;transform:scaleY(1.08);transform-origin:50% 28.32px">40000</div>
<div class="t" style="top:1446.18px;line-height:35.9px;font-size:29.92px;right:742.00px;transform:scaleY(1.08);transform-origin:50% 28.32px">0</div>
<div class="t" style="top:1446.18px;line-height:35.9px;font-size:29.92px;right:596.20px;color:#E36C0A;transform:scaleY(1.08);transform-origin:50% 28.32px">0</div>
<div class="t" style="top:1446.18px;line-height:35.9px;font-size:29.92px;right:450.60px;transform:scaleY(1.08);transform-origin:50% 28.32px">0</div>
<div class="t" style="top:1446.18px;line-height:35.9px;font-size:29.92px;right:304.90px;color:#E36C0A;transform:scaleY(1.08);transform-origin:50% 28.32px">0</div>
<div class="t" style="top:1446.18px;line-height:35.9px;font-size:29.92px;right:133.90px;color:#E36C0A;transform:scaleY(1.08);transform-origin:50% 28.32px">40000</div>
<div class="t" style="top:1482.58px;line-height:35.9px;font-size:29.92px;left:89.00px;transform:scaleY(1.08);transform-origin:50% 28.32px">3.2</div>
<div class="t" style="top:1481.98px;line-height:35.9px;font-size:29.92px;left:185.00px">PC&#x27;s (new or upgrades)</div>
<div class="t" style="top:1483.48px;line-height:35.9px;font-size:29.92px;right:1468.90px;transform:scaleY(1.08);transform-origin:50% 28.32px">1000</div>
<div class="t" style="top:1483.48px;line-height:35.9px;font-size:29.92px;right:1323.70px;transform:scaleY(1.08);transform-origin:50% 28.32px">0</div>
<div class="t" style="top:1483.48px;line-height:35.9px;font-size:29.92px;right:1177.80px;color:#E36C0A;transform:scaleY(1.08);transform-origin:50% 28.32px">0</div>
<div class="t" style="top:1483.48px;line-height:35.9px;font-size:29.92px;right:1032.50px;transform:scaleY(1.08);transform-origin:50% 28.32px">25</div>
<div class="t" style="top:1483.48px;line-height:35.9px;font-size:29.92px;right:887.50px;color:#E36C0A;transform:scaleY(1.08);transform-origin:50% 28.32px">25000</div>
<div class="t" style="top:1483.48px;line-height:35.9px;font-size:29.92px;right:742.00px;transform:scaleY(1.08);transform-origin:50% 28.32px">0</div>
<div class="t" style="top:1483.48px;line-height:35.9px;font-size:29.92px;right:596.20px;color:#E36C0A;transform:scaleY(1.08);transform-origin:50% 28.32px">0</div>
<div class="t" style="top:1483.48px;line-height:35.9px;font-size:29.92px;right:450.60px;transform:scaleY(1.08);transform-origin:50% 28.32px">0</div>
<div class="t" style="top:1483.48px;line-height:35.9px;font-size:29.92px;right:304.90px;color:#E36C0A;transform:scaleY(1.08);transform-origin:50% 28.32px">0</div>
<div class="t" style="top:1483.48px;line-height:35.9px;font-size:29.92px;right:133.90px;color:#E36C0A;transform:scaleY(1.08);transform-origin:50% 28.32px">25000</div>
<div class="t" style="top:1520.43px;line-height:35.9px;font-size:29.92px;left:89.00px;transform:scaleY(1.08);transform-origin:50% 28.32px">3.3</div>
<div class="t" style="top:1519.83px;line-height:35.9px;font-size:29.92px;left:185.00px">Additional memory</div>
<div class="t" style="top:1521.33px;line-height:35.9px;font-size:29.92px;right:1468.90px;transform:scaleY(1.08);transform-origin:50% 28.32px">0</div>
<div class="t" style="top:1521.33px;line-height:35.9px;font-size:29.92px;right:1323.70px;transform:scaleY(1.08);transform-origin:50% 28.32px">0</div>
<div class="t" style="top:1521.33px;line-height:35.9px;font-size:29.92px;right:1177.80px;color:#E36C0A;transform:scaleY(1.08);transform-origin:50% 28.32px">0</div>
<div class="t" style="top:1521.33px;line-height:35.9px;font-size:29.92px;right:1032.50px;transform:scaleY(1.08);transform-origin:50% 28.32px">0</div>
<div class="t" style="top:1521.33px;line-height:35.9px;font-size:29.92px;right:887.50px;color:#E36C0A;transform:scaleY(1.08);transform-origin:50% 28.32px">0</div>
<div class="t" style="top:1521.33px;line-height:35.9px;font-size:29.92px;right:742.00px;transform:scaleY(1.08);transform-origin:50% 28.32px">0</div>
<div class="t" style="top:1521.33px;line-height:35.9px;font-size:29.92px;right:596.20px;color:#E36C0A;transform:scaleY(1.08);transform-origin:50% 28.32px">0</div>
<div class="t" style="top:1521.33px;line-height:35.9px;font-size:29.92px;right:450.60px;transform:scaleY(1.08);transform-origin:50% 28.32px">0</div>
<div class="t" style="top:1521.33px;line-height:35.9px;font-size:29.92px;right:304.90px;color:#E36C0A;transform:scaleY(1.08);transform-origin:50% 28.32px">0</div>
<div class="t" style="top:1521.33px;line-height:35.9px;font-size:29.92px;right:133.90px;color:#E36C0A;transform:scaleY(1.08);transform-origin:50% 28.32px">0</div>
<div class="t" style="top:1557.78px;line-height:35.9px;font-size:29.92px;left:89.00px;transform:scaleY(1.08);transform-origin:50% 28.32px">3.4</div>
<div class="t" style="top:1557.18px;line-height:35.9px;font-size:29.92px;left:185.00px">Additional cpu</div>
<div class="t" style="top:1558.68px;line-height:35.9px;font-size:29.92px;right:1468.90px;transform:scaleY(1.08);transform-origin:50% 28.32px">0</div>
<div class="t" style="top:1558.68px;line-height:35.9px;font-size:29.92px;right:1323.70px;transform:scaleY(1.08);transform-origin:50% 28.32px">0</div>
<div class="t" style="top:1558.68px;line-height:35.9px;font-size:29.92px;right:1177.80px;color:#E36C0A;transform:scaleY(1.08);transform-origin:50% 28.32px">0</div>
<div class="t" style="top:1558.68px;line-height:35.9px;font-size:29.92px;right:1032.50px;transform:scaleY(1.08);transform-origin:50% 28.32px">0</div>
<div class="t" style="top:1558.68px;line-height:35.9px;font-size:29.92px;right:887.50px;color:#E36C0A;transform:scaleY(1.08);transform-origin:50% 28.32px">0</div>
<div class="t" style="top:1558.68px;line-height:35.9px;font-size:29.92px;right:742.00px;transform:scaleY(1.08);transform-origin:50% 28.32px">0</div>
<div class="t" style="top:1558.68px;line-height:35.9px;font-size:29.92px;right:596.20px;color:#E36C0A;transform:scaleY(1.08);transform-origin:50% 28.32px">0</div>
<div class="t" style="top:1558.68px;line-height:35.9px;font-size:29.92px;right:450.60px;transform:scaleY(1.08);transform-origin:50% 28.32px">0</div>
<div class="t" style="top:1558.68px;line-height:35.9px;font-size:29.92px;right:304.90px;color:#E36C0A;transform:scaleY(1.08);transform-origin:50% 28.32px">0</div>
<div class="t" style="top:1558.68px;line-height:35.9px;font-size:29.92px;right:133.90px;color:#E36C0A;transform:scaleY(1.08);transform-origin:50% 28.32px">0</div>
<div class="t" style="top:1670.68px;line-height:35.9px;font-size:29.92px;left:89.00px;transform:scaleY(1.08);transform-origin:50% 28.32px">3.5</div>
<div class="t" style="top:1670.08px;line-height:35.9px;font-size:29.92px;left:185.00px">eg via cloud services or other internal resource</div>
<div class="t" style="top:1671.58px;line-height:35.9px;font-size:29.92px;right:1468.90px;transform:scaleY(1.08);transform-origin:50% 28.32px">0</div>
<div class="t" style="top:1671.58px;line-height:35.9px;font-size:29.92px;right:1323.70px;transform:scaleY(1.08);transform-origin:50% 28.32px">0</div>
<div class="t" style="top:1671.58px;line-height:35.9px;font-size:29.92px;right:1177.80px;color:#E36C0A;transform:scaleY(1.08);transform-origin:50% 28.32px">0</div>
<div class="t" style="top:1671.58px;line-height:35.9px;font-size:29.92px;right:1032.50px;transform:scaleY(1.08);transform-origin:50% 28.32px">0</div>
<div class="t" style="top:1671.58px;line-height:35.9px;font-size:29.92px;right:887.50px;color:#E36C0A;transform:scaleY(1.08);transform-origin:50% 28.32px">0</div>
<div class="t" style="top:1671.58px;line-height:35.9px;font-size:29.92px;right:742.00px;transform:scaleY(1.08);transform-origin:50% 28.32px">0</div>
<div class="t" style="top:1671.58px;line-height:35.9px;font-size:29.92px;right:596.20px;color:#E36C0A;transform:scaleY(1.08);transform-origin:50% 28.32px">0</div>
<div class="t" style="top:1671.58px;line-height:35.9px;font-size:29.92px;right:450.60px;transform:scaleY(1.08);transform-origin:50% 28.32px">0</div>
<div class="t" style="top:1671.58px;line-height:35.9px;font-size:29.92px;right:304.90px;color:#E36C0A;transform:scaleY(1.08);transform-origin:50% 28.32px">0</div>
<div class="t" style="top:1671.58px;line-height:35.9px;font-size:29.92px;right:133.90px;color:#E36C0A;transform:scaleY(1.08);transform-origin:50% 28.32px">0</div>
<div class="t" style="top:1631.78px;line-height:35.9px;font-size:29.92px;left:185.00px">Additional processing services (temporary or permanent)</div>
</div>
</body>
</html>
